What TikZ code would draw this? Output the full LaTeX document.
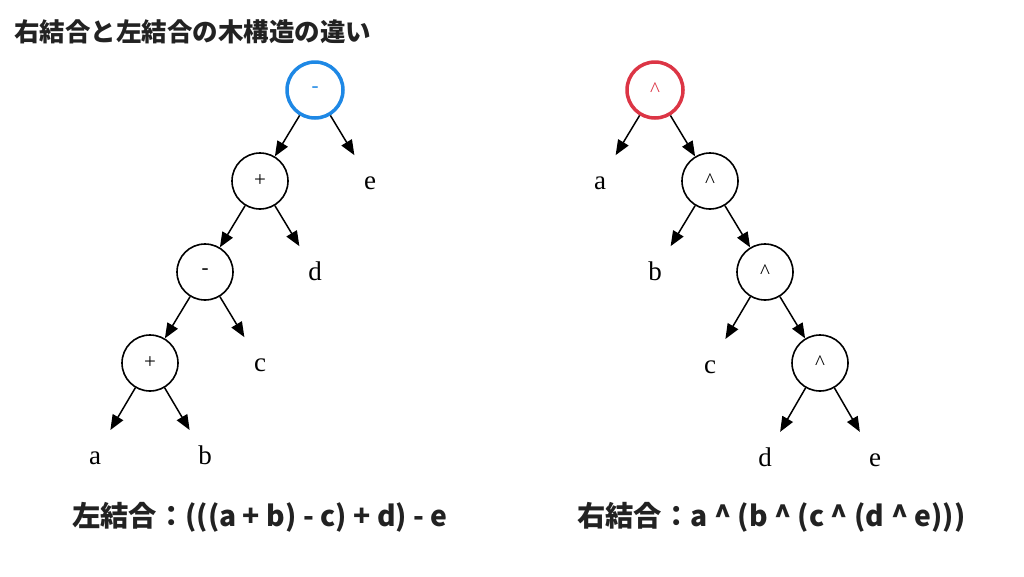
\documentclass[tikz,border=0pt]{standalone}
\usepackage{fontspec}
\usepackage{xcolor}
\setmainfont{Liberation Serif}
\newfontfamily\jpfont{Noto Sans CJK JP}
\usetikzlibrary{arrows.meta,positioning,calc}
\definecolor{rootblue}{RGB}{30,136,229}
\definecolor{rootred}{RGB}{220,53,69}
\definecolor{textgray}{RGB}{34,34,34}

\begin{document}
\begin{tikzpicture}[
    x=1pt, y=-1pt,
    node distance=91pt and 55pt, on grid,
    op/.style={circle, draw, line width=1.6pt, minimum size=56pt, inner sep=0pt, font=\fontsize{21}{21}\selectfont},
    leaf/.style={circle, minimum size=60pt, inner sep=0pt, text height=16pt, text depth=0pt, font=\fontsize{27}{27}\selectfont},
    caption/.style={anchor=west, inner sep=0pt, text=textgray, font=\jpfont\bfseries\fontsize{28.3}{28.3}\selectfont},
    line/.style={draw, line width=1.5pt},
    >={Triangle[length=15pt,width=12pt]}
]
\useasboundingbox[fill=white] (0,0) rectangle (1024,576);

% Title
\node[caption, font=\jpfont\bfseries\fontsize{25.5}{25.5}\selectfont] (title) at (14,32) {右結合と左結合の木構造の違い};

% Left-associative tree
\node[op, draw=rootblue, line width=3.5pt, text=rootblue] (lminus1) at (315,90) {-};
\node[op, below left=of lminus1] (lplus1) {+};
\node[leaf, below right=of lminus1] (le) {e};
\node[op, below left=of lplus1] (lminus2) {-};
\node[leaf, below right=of lplus1] (ld) {d};
\node[op, below left=of lminus2] (lplus2) {+};
\node[leaf, below right=of lminus2] (lc) {c};
\node[leaf, below left=93pt and 55pt of lplus2] (la) {a};
\node[leaf, below right=93pt and 55pt of lplus2] (lb) {b};

% Right-associative tree
\node[op, draw=rootred, line width=3.5pt, text=rootred] (rcaret1) at (655,90) {\textasciicircum};
\node[leaf, below left=of rcaret1] (ra) {a};
\node[op, below right=of rcaret1] (rcaret2) {\textasciicircum};
\node[leaf, below left=of rcaret2] (rb) {b};
\node[op, below right=of rcaret2] (rcaret3) {\textasciicircum};
\node[leaf, below left=93pt and 55pt of rcaret3] (rc) {c};
\node[op, below right=of rcaret3] (rcaret4) {\textasciicircum};
\node[leaf, below left=95pt and 55pt of rcaret4] (rd) {d};
\node[leaf, below right=95pt and 55pt of rcaret4] (re) {e};

% Edges
\path[line,->] (lminus1) -- (lplus1);
\path[line,->] (lminus1) -- (le);
\path[line,->] (lplus1) -- (lminus2);
\path[line,->] (lplus1) -- (ld);
\path[line,->] (lminus2) -- (lplus2);
\path[line,->] (lminus2) -- (lc);
\path[line,->] (lplus2) -- (la);
\path[line,->] (lplus2) -- (lb);

\path[line,->] (rcaret1) -- (ra);
\path[line,->] (rcaret1) -- (rcaret2);
\path[line,->] (rcaret2) -- (rb);
\path[line,->] (rcaret2) -- (rcaret3);
\path[line,->] (rcaret3) -- (rc);
\path[line,->] (rcaret3) -- (rcaret4);
\path[line,->] (rcaret4) -- (rd);
\path[line,->] (rcaret4) -- (re);

% Captions
\node[caption] (lcaption) at (72,517) {左結合：(((a + b) - c) + d) - e};
\node[caption] (rcaption) at (577,517) {右結合：a \textasciicircum{} (b \textasciicircum{} (c \textasciicircum{} (d \textasciicircum{} e)))};

\end{tikzpicture}
\end{document}
